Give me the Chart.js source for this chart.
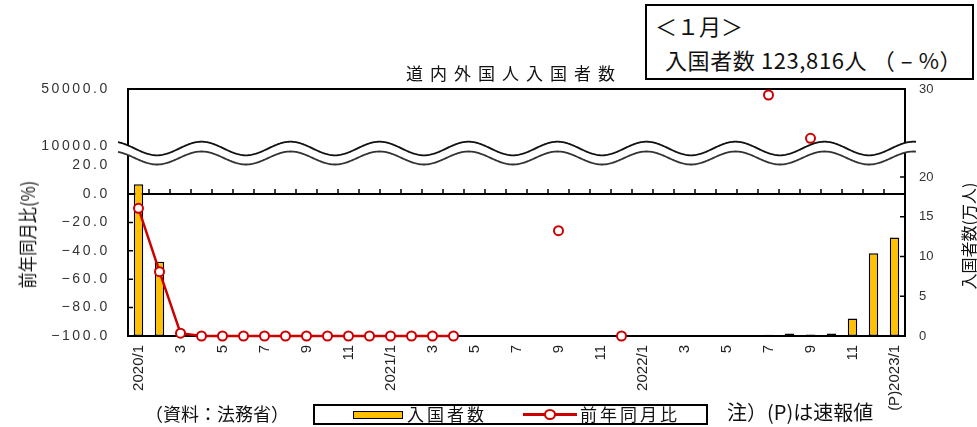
<!DOCTYPE html>
<html lang="ja">
<head>
<meta charset="utf-8">
<title>道内外国人入国者数</title>
<script src="https://cdn.jsdelivr.net/npm/chart.js@4.4.1/dist/chart.umd.min.js"></script>
<style>
    body { margin: 0; background: #fff; }
    #quadro { position: relative; width: 977px; height: 427px; overflow: hidden; font-family: "Noto Sans CJK JP", sans-serif; color: #111; }
    #grafico { position: absolute; left: 0; top: 0; }
    .txt { position: absolute; white-space: nowrap; }
    .vert { position: absolute; text-align: center; white-space: nowrap; }
</style>
</head>
<body>
<div id="quadro">
    <canvas id="grafico" width="977" height="427"></canvas>

    <div class="txt" style="left:307px; top:60px; width:400px; text-align:center; font-size:17px; letter-spacing:7px; padding-left:7px;">道内外国人入国者数</div>

    <div class="vert" style="left:-33px; top:225px; width:120px; height:24px; line-height:24px; font-size:19px; transform:rotate(-90deg) scale(0.86,1);">前年同月比(%)</div>
    <div class="vert" style="left:908px; top:224px; width:120px; height:24px; line-height:24px; font-size:16px; transform:rotate(-90deg);">入国者数(万人)</div>

    <!-- caixa do canto superior direito -->
    <div style="position:absolute; left:645px; top:4px; width:329px; height:76px; border:2px solid #000; box-sizing:border-box; background:#fff;">
        <div class="txt" style="left:8px; top:4px; font-size:22px; line-height:30px;">＜１月＞</div>
        <div class="txt" style="left:18px; top:38px; font-size:22px; line-height:30px; letter-spacing:0.6px;">入国者数 123,816人 （ – %）</div>
    </div>

    <div class="txt" style="left:145px; top:400px; font-size:18px; line-height:26px;">（資料：法務省）</div>

    <!-- legenda -->
    <div style="position:absolute; left:313px; top:404px; width:395px; height:21px; border:2px solid #000; box-sizing:border-box;">
        <div style="position:absolute; left:38px; top:5px; width:48px; height:6px; background:#FFC000; border:1.5px solid #000;"></div>
        <div class="txt" style="left:92px; top:-4px; font-size:17px; letter-spacing:3px; line-height:24px;">入国者数</div>
        <div style="position:absolute; left:208px; top:7px; width:54px; height:3px; background:#cc0000;"></div>
        <div style="position:absolute; left:229px; top:3px; width:8px; height:7px; border:2px solid #cc0000; border-radius:50%; background:#fff;"></div>
        <div class="txt" style="left:265px; top:-4px; font-size:17px; letter-spacing:3px; line-height:24px;">前年同月比</div>
    </div>

    <div class="txt" style="left:727px; top:398px; font-size:20px; line-height:28px;">注）(P)は速報値</div>
</div>

<script>
// meses do eixo x (2020/1 ate 2023/1)
const meses = [
    '2020/1', '2020/2', '2020/3', '2020/4', '2020/5', '2020/6', '2020/7', '2020/8', '2020/9', '2020/10', '2020/11', '2020/12',
    '2021/1', '2021/2', '2021/3', '2021/4', '2021/5', '2021/6', '2021/7', '2021/8', '2021/9', '2021/10', '2021/11', '2021/12',
    '2022/1', '2022/2', '2022/3', '2022/4', '2022/5', '2022/6', '2022/7', '2022/8', '2022/9', '2022/10', '2022/11', '2022/12',
    '2023/1'
];

// rotulos que aparecem embaixo (so meses impares)
const rotulosX = [
    '2020/1', '', '3', '', '5', '', '7', '', '9', '', '11', '',
    '2021/1', '', '3', '', '5', '', '7', '', '9', '', '11', '',
    '2022/1', '', '3', '', '5', '', '7', '', '9', '', '11', '',
    '(P)2023/1'
];

// 入国者数 (万人)
const entradas = [
    19.1, 9.35, 0.3, 0, 0, 0, 0, 0, 0, 0, 0, 0,
    0, 0, 0, 0, 0, 0, 0.1, 0, 0.1, 0, 0, 0,
    0, 0, 0, 0.1, 0, 0, 0.15, 0.3, 0.2, 0.3, 2.2, 10.4,
    12.38
];

// 前年同月比 (%)
const variacao = [
    -10.1, -54.7, -98.0, -100, -100, -100, -100, -100, -100, -100, -100, -100,
    -100, -100, -100, -100, null, null, null, null, -25.8, null, null, -100,
    null, null, null, null, null, null, 45800, null, 15400, null, null, null,
    null
];

// ticks dos eixos
const ticksEsqBaixo = [-100, -80, -60, -40, -20, 0, 20];
const ticksEsqCima = [10000, 50000];
const ticksDirBaixo = [0, 5, 10, 15, 20];
const ticksDirCima = [30];

// separa os valores entre a parte de baixo e a parte de cima do eixo quebrado
const variacaoBaixo = variacao.map(v => (v !== null && v <= 20) ? v : null);
const variacaoCima = variacao.map(v => (v !== null && v > 20) ? v : null);

const vermelho = '#cc0000';

function fmtEsq(v) {
    return v.toFixed(1).replace('-', '−');
}

// desenha a onda de quebra do eixo
function onda(ctx, x1, x2, centro, amp, volta) {
    if (!volta) {
        for (let px = x1; px <= x2; px++) {
            const py = centro + amp * Math.cos(2 * Math.PI * (px - 157) / 89);
            if (px == x1) ctx.moveTo(px, py); else ctx.lineTo(px, py);
        }
    } else {
        for (let px = x2; px >= x1; px--) {
            ctx.lineTo(px, centro + amp * Math.cos(2 * Math.PI * (px - 157) / 89));
        }
    }
}

const decoracao = {
    id: 'decoracao',
    beforeDatasetsDraw(chart) {
        const ctx = chart.ctx;
        const area = chart.chartArea;
        const x = chart.scales.x, yL = chart.scales.yL, yR = chart.scales.yR;
        const y0 = yL.getPixelForValue(0);

        ctx.save();
        ctx.strokeStyle = '#000';
        ctx.lineWidth = 2;
        ctx.beginPath();
        ctx.moveTo(area.left, y0);
        ctx.lineTo(area.right, y0);
        ctx.moveTo(area.left, area.top);
        ctx.lineTo(area.right, area.top);
        ctx.stroke();

        // tracinhos pra cima na linha do zero
        ctx.lineWidth = 1.5;
        ctx.beginPath();
        for (let i = 1; i < meses.length; i++) {
            const px = (x.getPixelForValue(i - 1) + x.getPixelForValue(i)) / 2;
            ctx.moveTo(px, y0);
            ctx.lineTo(px, y0 - 5);
        }
        yL.ticks.forEach(t => {
            if (t.value > -100 && t.value < 0) {
                const py = yL.getPixelForValue(t.value);
                ctx.moveTo(area.left, py);
                ctx.lineTo(area.left + 5, py);
            }
        });
        yR.ticks.forEach(t => {
            if (t.value > 0) {
                const py = yR.getPixelForValue(t.value);
                ctx.moveTo(area.right, py);
                ctx.lineTo(area.right - 5, py);
            }
        });
        ctx.stroke();
        ctx.restore();
    },
    afterDraw(chart) {
        const ctx = chart.ctx;
        const area = chart.chartArea;
        const yL = chart.scales.yL, yU = chart.scales.yU;

        // rotulos do eixo da esquerda
        ctx.save();
        ctx.font = '14px "Liberation Sans"';
        ctx.letterSpacing = '2.6px';
        ctx.fillStyle = '#333';
        ctx.textAlign = 'right';
        ctx.textBaseline = 'middle';
        [yU, yL].forEach(s => {
            s.ticks.forEach(t => {
                ctx.fillText(fmtEsq(t.value), area.left - 18, s.getPixelForValue(t.value));
            });
        });
        ctx.restore();

        // onda da quebra
        const jy = yU.bottom;
        const x1 = area.left - 10, x2 = area.right + 11;
        ctx.save();
        ctx.beginPath();
        onda(ctx, x1, x2, jy - 1.5, 6.8, false);
        onda(ctx, x1, x2, jy + 8, 6.5, true);
        ctx.closePath();
        ctx.fillStyle = '#fff';
        ctx.fill();
        ctx.strokeStyle = '#111';
        ctx.lineWidth = 1.8;
        ctx.beginPath();
        onda(ctx, x1, x2, jy - 1.5, 6.8, false);
        ctx.stroke();
        ctx.strokeStyle = '#333';
        ctx.beginPath();
        onda(ctx, x1, x2, jy + 8, 6.5, false);
        ctx.stroke();
        ctx.restore();
    }
};

const pontoLinha = {
    pointRadius: 4.5,
    pointBorderWidth: 2,
    pointBackgroundColor: '#fff',
    pointBorderColor: vermelho
};

const configChart = {
    type: 'bar',
    data: {
        labels: meses,
        datasets: [
            {
                type: 'line',
                label: '前年同月比',
                data: variacaoBaixo,
                yAxisID: 'yL',
                borderColor: vermelho,
                borderWidth: 2.5,
                spanGaps: false,
                clip: false,
                order: 0,
                ...pontoLinha
            },
            {
                type: 'line',
                label: '前年同月比 (上)',
                data: variacaoCima,
                yAxisID: 'yU',
                showLine: false,
                clip: false,
                order: 0,
                ...pontoLinha
            },
            {
                label: '入国者数',
                data: entradas,
                yAxisID: 'yR',
                backgroundColor: '#FFC000',
                borderColor: '#000',
                borderWidth: 1.5,
                borderSkipped: false,
                categoryPercentage: 1,
                barPercentage: 0.45,
                order: 1
            }
        ]
    },
    options: {
        responsive: false,
        animation: false,
        events: [],
        layout: { padding: { top: 89, left: 0, right: 0, bottom: 0 }, autoPadding: false },
        plugins: { legend: { display: false }, tooltip: { enabled: false }, title: { display: false } },
        scales: {
            x: {
                grid: { display: false, drawTicks: false },
                border: { display: true, color: '#000', width: 2 },
                ticks: {
                    autoSkip: false,
                    maxRotation: 90,
                    minRotation: 90,
                    padding: 9,
                    color: '#222',
                    font: { family: 'Liberation Sans', size: 15 },
                    callback: (v, i) => rotulosX[i]
                },
                afterFit: s => { s.height = 91; }
            },
            yL: {
                type: 'linear',
                position: 'left',
                stack: 'esq',
                stackWeight: 186,
                min: -100,
                max: 31,
                grid: { display: false, drawTicks: false },
                border: { display: true, color: '#000', width: 2 },
                ticks: { display: false },
                afterBuildTicks: s => { s.ticks = ticksEsqBaixo.map(v => ({ value: v })); },
                afterFit: s => { s.width = 128; }
            },
            yU: {
                type: 'linear',
                position: 'left',
                stack: 'esq',
                stackWeight: 61,
                min: 7200,
                max: 50000,
                grid: { display: false, drawTicks: false },
                border: { display: true, color: '#000', width: 2 },
                ticks: { display: false },
                afterBuildTicks: s => { s.ticks = ticksEsqCima.map(v => ({ value: v })); },
                afterFit: s => { s.width = 128; }
            },
            yRU: {
                type: 'linear',
                position: 'right',
                stack: 'dir',
                stackWeight: 61,
                min: 25,
                max: 30,
                grid: { display: false, drawTicks: false },
                border: { display: true, color: '#000', width: 2 },
                ticks: { padding: 14, color: '#333', font: { family: 'Liberation Sans', size: 13 } },
                afterBuildTicks: s => { s.ticks = ticksDirCima.map(v => ({ value: v })); },
                afterFit: s => { s.width = 72; }
            },
            yR: {
                type: 'linear',
                position: 'right',
                stack: 'dir',
                stackWeight: 186,
                min: 0,
                max: 23.4,
                grid: { display: false, drawTicks: false },
                border: { display: true, color: '#000', width: 2 },
                ticks: { padding: 14, color: '#333', font: { family: 'Liberation Sans', size: 13 } },
                afterBuildTicks: s => { s.ticks = ticksDirBaixo.map(v => ({ value: v })); },
                afterFit: s => { s.width = 72; }
            }
        }
    },
    plugins: [decoracao]
};

const grafico = document.getElementById('grafico');
let myChart = new Chart(grafico, configChart);
</script>
</body>
</html>
